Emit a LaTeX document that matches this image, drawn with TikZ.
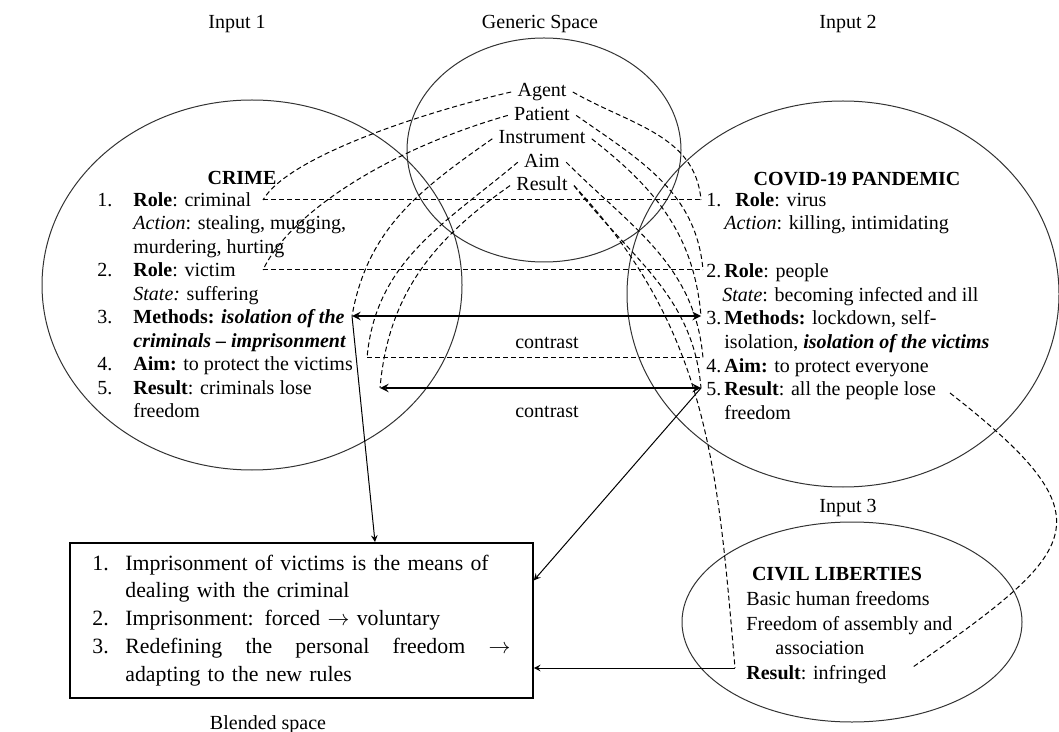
\documentclass[tikz,border=0pt]{standalone}
\usepackage{fontspec}
\setmainfont{Liberation Serif}
\usetikzlibrary{shapes.geometric,positioning}

\begin{document}
\begin{tikzpicture}[x=0.5pt, y=0.5pt, node distance=11.7pt]

\tikzstyle{space} = [ellipse, draw=black!80, line width=0.5pt, inner sep=0pt]
\tikzstyle{spacename} = [font=\fontsize{10}{12}\selectfont, inner sep=0pt]
\tikzstyle{heading} = [font=\fontsize{10}{12}\selectfont\bfseries, inner sep=0pt]
\tikzstyle{role} = [font=\fontsize{10}{12}\selectfont, text height=7pt, text depth=2pt, inner sep=3pt]
\tikzstyle{items} = [font=\fontsize{10}{11.75}\selectfont, align=left, inner sep=0pt, anchor=north west]
\tikzstyle{blendbox} = [rectangle, draw=black, line width=0.9pt, minimum width=231.5pt, minimum height=77.5pt, inner sep=0pt, anchor=north west, text width=209pt, align=left, font=\fontsize{10.9}{13.9}\selectfont]
\tikzstyle{mapping} = [line width=0.5pt, dash pattern=on 2.5pt off 1.5pt]
\tikzstyle{contrast} = [line width=0.9pt, <->, >=stealth]
\tikzstyle{arrow} = [line width=0.5pt, ->, >=stealth]

\useasboundingbox (0,0) rectangle (1059,-732);

% Define nodes
\node (in1) [spacename] at (237,-24) {Input 1};
\node (gen) [spacename] at (540,-24) {Generic Space};
\node (in2) [spacename] at (848,-24) {Input 2};
\node (in3) [spacename] at (848,-508) {Input 3};
\node (blended) [spacename] at (268,-725) {Blended space};

\node (genspace) [space, minimum width=137pt, minimum height=112pt] at (544,-150) {};
\node (crimespace) [space, minimum width=210pt, minimum height=185pt] at (252,-285) {};
\node (covidspace) [space, minimum width=216pt, minimum height=193pt] at (843,-294) {};
\node (civilspace) [space, minimum width=170pt, minimum height=100pt] at (852,-622) {};

\node (agent) [role] at (542,-92) {Agent};
\node (patient) [role, below of=agent] {Patient};
\node (instrument) [role, below of=patient] {Instrument};
\node (aim) [role, below of=instrument] {Aim};
\node (result) [role, below of=aim] {Result};

\node (crime) [heading] at (242,-178) {CRIME};
\node (crimelist) [items] at (97,-192) {%
\makebox[18pt][l]{1.}\textbf{Role}: criminal\\
\hspace*{18pt}\textit{Action}: stealing, mugging,\\
\hspace*{18pt}murdering, hurting\\
\makebox[18pt][l]{2.}\textbf{Role}: victim\\
\hspace*{18pt}\textit{State:} suffering\\
\makebox[18pt][l]{3.}\textbf{Methods: \textit{isolation of the}}\\
\hspace*{18pt}\textbf{\textit{criminals -- imprisonment}}\\
\makebox[18pt][l]{4.}\textbf{Aim:} to protect the victims\\
\makebox[18pt][l]{5.}\textbf{Result}: criminals lose\\
\hspace*{18pt}freedom};

\node (covid) [heading] at (857,-179) {COVID-19 PANDEMIC};
\node (covidlist) [items, font=\fontsize{10}{11.85}\selectfont] at (706,-192) {%
\makebox[14.5pt][l]{1.}\textbf{Role}: virus\\
\hspace*{9pt}\textit{Action}: killing, intimidating\\
\mbox{}\\
\makebox[9pt][l]{2.}\textbf{Role}: people\\
\hspace*{8pt}\textit{State}: becoming infected and ill\\
\makebox[9pt][l]{3.}\textbf{Methods:} lockdown, self-\\
\hspace*{9pt}isolation, \textbf{\textit{isolation of the victims}}\\
\makebox[9pt][l]{4.}\textbf{Aim:} to protect everyone\\
\makebox[9pt][l]{5.}\textbf{Result}: all the people lose\\
\hspace*{9pt}freedom};

\node (contrast1) [spacename] at (547,-343) {contrast};
\node (contrast2) [spacename] at (547,-412) {contrast};

\node (civil) [heading] at (837,-574) {CIVIL LIBERTIES};
\node (civillist) [items, font=\fontsize{10}{12.3}\selectfont] at (746,-591) {%
Basic human freedoms\\
Freedom of assembly and\\
\hspace*{14.5pt}association\\
\textbf{Result}: infringed};

\node (blend) [blendbox] at (69,-542) {%
\makebox[16.5pt][l]{1.}Imprisonment of victims is the means of\\
\hspace*{16.5pt}dealing with the criminal\\
\makebox[16.5pt][l]{2.}Imprisonment: forced $\rightarrow$ voluntary\\
\makebox[16.5pt][l]{3.}\makebox[192.5pt][l]{Redefining\hfill the\hfill personal\hfill freedom\hfill $\rightarrow$}\\
\hspace*{16.5pt}adapting to the new rules};

% ends of the connectors
\coordinate (lrole1) at (263,-200);
\coordinate (lrole2) at (263,-270);
\coordinate (lmeth) at (352,-316);
\coordinate (laim) at (367,-358);
\coordinate (lres) at (380,-388);
\coordinate (rrole1) at (701,-200);
\coordinate (rrole2) at (703,-270);
\coordinate (rmeth) at (701,-316);
\coordinate (raim) at (703,-358);
\coordinate (rres) at (701,-388);
\coordinate (rlose) at (950,-393);
\coordinate (ires) at (735,-668);
\coordinate (iinfr) at (913,-667);

% Draw mappings
\draw [mapping] (agent.west) to[out=193, in=60, out distance=45pt, in distance=25pt] (lrole1);
\draw [mapping] (patient.west) to[out=196, in=65, out distance=65pt, in distance=30pt] (lrole2);
\draw [mapping] (instrument.west) to[out=215, in=80] (lmeth);
\draw [mapping] (aim.west) to[out=220, in=85] (laim);
\draw [mapping] (result.west) to[out=215, in=85] (lres);

\draw [mapping] (agent.east) to[out=-30, in=95] (rrole1);
\draw [mapping] (patient.east) to[out=-35, in=95] (rrole2);
\draw [mapping] (instrument.east) to[out=-38, in=95] (rmeth);
\draw [mapping] (aim.east) to[out=-45, in=95] (raim);
\draw [mapping] (result.east) to[out=-52, in=95] (rres);
\draw [mapping] (result.east) to[out=-47, in=95] (ires);

\draw [mapping] (lrole1) -- (rrole1);
\draw [mapping] (lrole2) -- (rrole2);
\draw [mapping] (laim) -- (raim);
\draw [mapping] (rlose) to[out=-38, in=35, looseness=1.9] (iinfr);

% Draw arrows
\draw [contrast] (lmeth) -- (rmeth);
\draw [contrast] (lres) -- (rres);
\draw [arrow] (lmeth) -- ([xshift=153pt]blend.north west);
\draw [arrow] (rres) -- ([yshift=20pt]blend.east);
\draw [arrow] (ires) -- (ires -| blend.east);

\end{tikzpicture}
\end{document}
